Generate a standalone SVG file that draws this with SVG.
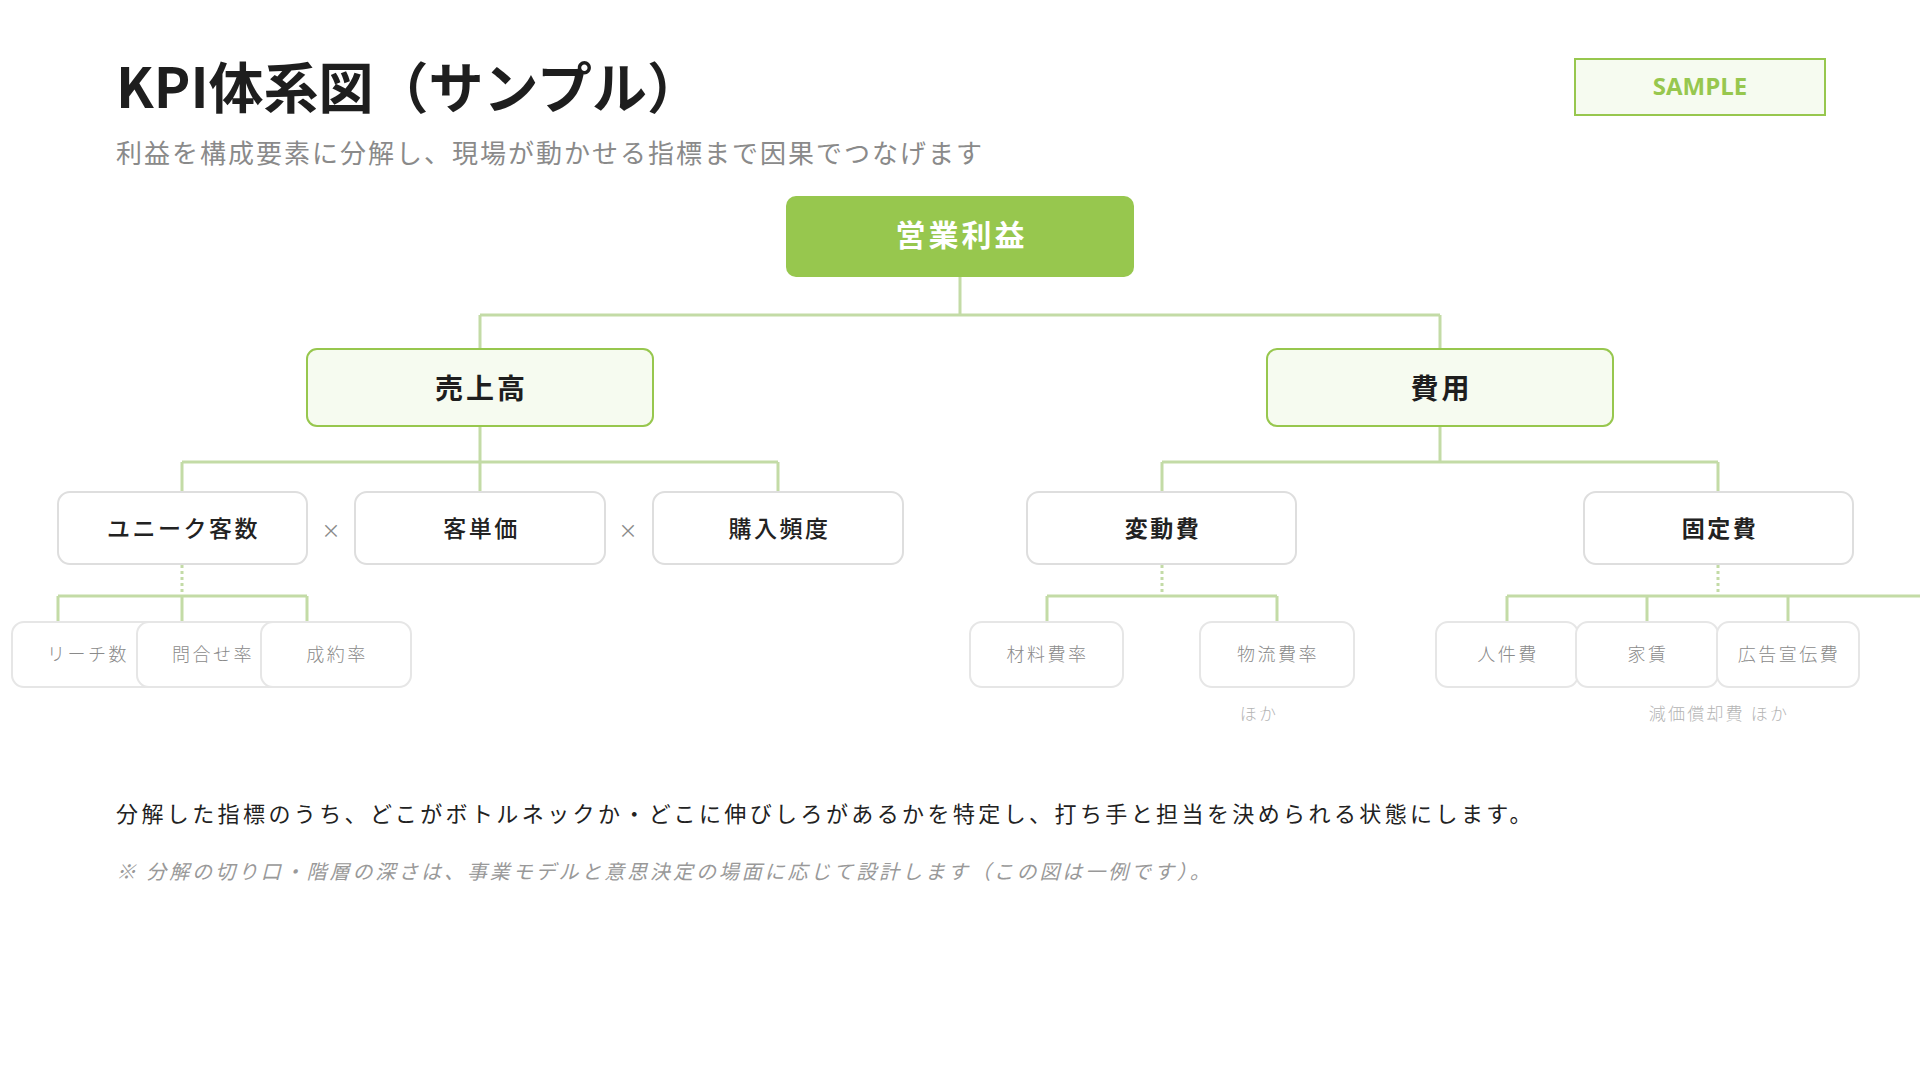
<svg xmlns="http://www.w3.org/2000/svg" width="1920" height="1080" viewBox="0 0 1920 1080">
<style>
text{font-family:"Noto Sans CJK JP","Noto Sans",sans-serif}
.title{font-size:55px;font-weight:700;fill:#1e1e1e}
.sub{font-size:26px;fill:#8a8a8a;letter-spacing:2px}
.sample-box{fill:#F6FBF0;stroke:#97C74E;stroke-width:2}
.sample{font-family:"Open Sans","Liberation Sans",sans-serif;font-size:24px;font-weight:700;fill:#97C74E}
.root{fill:#97C74E}
.root-t{font-size:30px;font-weight:700;fill:#ffffff;letter-spacing:3px}
.l1{fill:#F6FBF0;stroke:#97C74E;stroke-width:2}
.l1-t{font-size:28px;font-weight:700;fill:#1e1e1e;letter-spacing:3px}
.l2{fill:#ffffff;stroke:#DEDEDE;stroke-width:2}
.l2-t{font-size:23px;font-weight:500;fill:#222222;letter-spacing:2.5px}
.l2-tb{font-size:23px;font-weight:700;fill:#222222;letter-spacing:2.5px}
.l3{fill:#ffffff;stroke:#E6E6E6;stroke-width:2}
.l3-t{font-size:18px;font-weight:300;fill:#8a8a8a;letter-spacing:2.5px}
.op{font-size:19px;fill:#8a8a8a}
.more{font-size:17px;font-weight:300;fill:#b4b4b4;letter-spacing:2.2px}
.body{font-size:22px;fill:#222222;letter-spacing:3.4px}
.note{font-size:20px;fill:#999999;font-style:italic;letter-spacing:2.9px}
.ln{fill:none;stroke:#C3DBA6;stroke-width:3}
.dot{fill:none;stroke:#C3DBA6;stroke-width:3;stroke-dasharray:3 3}
</style>

<g id="header">
<text class="title" x="116" y="108">KPI体系図（サンプル）</text>
<text class="sub" x="116" y="163">利益を構成要素に分解し、現場が動かせる指標まで因果でつなげます</text>
</g>

<g id="sample-badge">
<rect class="sample-box" x="1575" y="59" width="250" height="56"/>
<text class="sample" x="1700" y="95" text-anchor="middle">SAMPLE</text>
</g>

<g id="connectors">
<path class="ln" d="M960 277 V315 M480 315 H1440 M480 315 V349 M1440 315 V349"/>
<path class="ln" d="M480 426 V462 M182 462 H778 M182 462 V492 M480 462 V492 M778 462 V492"/>
<path class="ln" d="M1440 426 V462 M1162 462 H1718 M1162 462 V492 M1718 462 V492"/>
<path class="dot" d="M182 565 V594"/>
<path class="ln" d="M58 596 H307 M58 596 V622 M182 596 V622 M307 596 V622"/>
<path class="dot" d="M1162 565 V594"/>
<path class="ln" d="M1047 596 H1277 M1047 596 V622 M1277 596 V622"/>
<path class="dot" d="M1718 565 V594"/>
<path class="ln" d="M1507 596 H1920 M1507 596 V622 M1647 596 V622 M1788 596 V622"/>
</g>

<g id="node-root">
<rect class="root" x="786" y="196" width="348" height="81" rx="10"/>
<text class="root-t" x="961.5" y="233" text-anchor="middle" dominant-baseline="central">営業利益</text>
</g>

<g id="node-sales">
<rect class="l1" x="307" y="349" width="346" height="77" rx="10"/>
<text class="l1-t" x="481.5" y="387" text-anchor="middle" dominant-baseline="central">売上高</text>
</g>
<g id="node-cost">
<rect class="l1" x="1267" y="349" width="346" height="77" rx="10"/>
<text class="l1-t" x="1441.5" y="387" text-anchor="middle" dominant-baseline="central">費用</text>
</g>

<g id="node-unique">
<rect class="l2" x="58" y="492" width="249" height="72" rx="12"/>
<text class="l2-t" x="183.5" y="527" text-anchor="middle" dominant-baseline="central">ユニーク客数</text>
</g>
<text class="op" x="331" y="529" text-anchor="middle" dominant-baseline="central">×</text>
<g id="node-price">
<rect class="l2" x="355" y="492" width="250" height="72" rx="12"/>
<text class="l2-t" x="481.5" y="527" text-anchor="middle" dominant-baseline="central">客単価</text>
</g>
<text class="op" x="628" y="529" text-anchor="middle" dominant-baseline="central">×</text>
<g id="node-freq">
<rect class="l2" x="653" y="492" width="250" height="72" rx="12"/>
<text class="l2-t" x="779.5" y="527" text-anchor="middle" dominant-baseline="central">購入頻度</text>
</g>
<g id="node-variable">
<rect class="l2" x="1027" y="492" width="269" height="72" rx="12"/>
<text class="l2-tb" x="1163" y="527" text-anchor="middle" dominant-baseline="central">変動費</text>
</g>
<g id="node-fixed">
<rect class="l2" x="1584" y="492" width="269" height="72" rx="12"/>
<text class="l2-tb" x="1720" y="527" text-anchor="middle" dominant-baseline="central">固定費</text>
</g>

<g id="node-reach">
<rect class="l3" x="12" y="622" width="150" height="65" rx="12"/>
<text class="l3-t" x="88" y="653" text-anchor="middle" dominant-baseline="central">リーチ数</text>
</g>
<g id="node-inquiry">
<rect class="l3" x="137" y="622" width="150" height="65" rx="12"/>
<text class="l3-t" x="213" y="653" text-anchor="middle" dominant-baseline="central">問合せ率</text>
</g>
<g id="node-close">
<rect class="l3" x="261" y="622" width="150" height="65" rx="12"/>
<text class="l3-t" x="337" y="653" text-anchor="middle" dominant-baseline="central">成約率</text>
</g>
<g id="node-material">
<rect class="l3" x="970" y="622" width="153" height="65" rx="12"/>
<text class="l3-t" x="1047.5" y="653" text-anchor="middle" dominant-baseline="central">材料費率</text>
</g>
<g id="node-logistics">
<rect class="l3" x="1200" y="622" width="154" height="65" rx="12"/>
<text class="l3-t" x="1278" y="653" text-anchor="middle" dominant-baseline="central">物流費率</text>
</g>
<text class="more" x="1259" y="712" text-anchor="middle" dominant-baseline="central">ほか</text>
<g id="node-labor">
<rect class="l3" x="1436" y="622" width="142" height="65" rx="12"/>
<text class="l3-t" x="1508" y="653" text-anchor="middle" dominant-baseline="central">人件費</text>
</g>
<g id="node-rent">
<rect class="l3" x="1576" y="622" width="142" height="65" rx="12"/>
<text class="l3-t" x="1648" y="653" text-anchor="middle" dominant-baseline="central">家賃</text>
</g>
<g id="node-ads">
<rect class="l3" x="1717" y="622" width="142" height="65" rx="12"/>
<text class="l3-t" x="1789" y="653" text-anchor="middle" dominant-baseline="central">広告宣伝費</text>
</g>
<text class="more" x="1719" y="712" text-anchor="middle" dominant-baseline="central">減価償却費 ほか</text>

<g id="footer">
<text class="body" x="116" y="822">分解した指標のうち、どこがボトルネックか・どこに伸びしろがあるかを特定し、打ち手と担当を決められる状態にします。</text>
<text class="note" x="116" y="879">※ 分解の切り口・階層の深さは、事業モデルと意思決定の場面に応じて設計します（この図は一例です）。</text>
</g>
</svg>
